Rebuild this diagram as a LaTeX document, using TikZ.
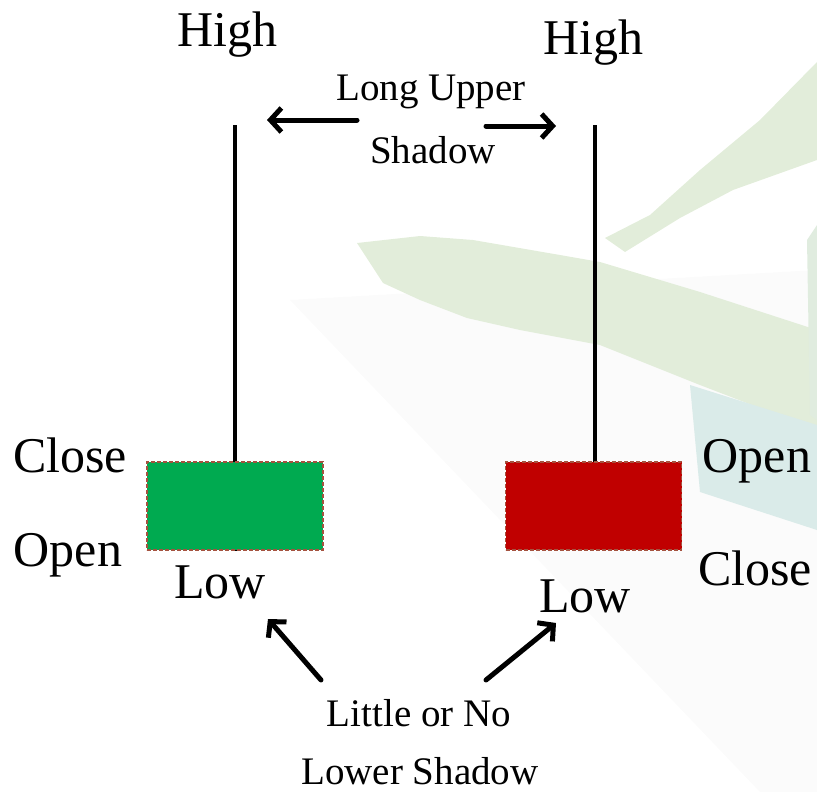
\documentclass[tikz,border=0pt]{standalone}
\usepackage{fontspec}
\setmainfont{Liberation Serif}
\usetikzlibrary{arrows.meta}
\definecolor{bullgreen}{RGB}{0,170,80}
\definecolor{bearred}{RGB}{192,0,0}
\definecolor{boxedge}{RGB}{165,82,63}
\definecolor{wmgreen}{RGB}{226,237,218}
\definecolor{wmteal}{RGB}{218,235,233}
\definecolor{wmgray}{RGB}{251,251,251}
\tikzset{
  big/.style={inner sep=0pt, anchor=base, font=\fontsize{50}{50}\selectfont},
  small/.style={inner sep=0pt, anchor=base, font=\fontsize{39}{39}\selectfont},
  wick/.style={line width=4pt, black},
  body/.style={draw=boxedge, line width=1.5pt, dash pattern=on 4pt off 2pt, minimum width=176pt, minimum height=88pt, inner sep=0pt},
  pointer/.style={line width=5pt, line cap=round, -{Straight Barb[length=11pt,width=24pt,line width=5pt]}}
}
\begin{document}
\begin{tikzpicture}[x=1pt,y=-1pt]
\useasboundingbox (0,0) rectangle (817,792);
% watermark
\fill[wmgray] (290,300) -- (817,270) -- (817,792) -- (760,792) -- cycle;
\fill[wmgreen] (357,243) -- (420,236) -- (473,240) -- (560,255) -- (600,262) -- (700,292) -- (817,330) -- (817,430) -- (700,385) -- (600,345) -- (520,330) -- (467,318) -- (420,300) -- (383,283) -- cycle;
\fill[wmteal] (690,385) -- (817,425) -- (817,530) -- (700,492) -- cycle;
\fill[wmgreen] (605,238) -- (650,215) -- (700,170) -- (760,120) -- (817,62) -- (817,160) -- (733,190) -- (680,218) -- (625,252) -- cycle;
\fill[wmgreen!70!wmteal] (807,240) -- (817,225) -- (817,420) -- (810,415) -- cycle;
% candles
\coordinate (ghigh) at (235,125);
\coordinate (glow) at (235,551);
\coordinate (rhigh) at (595,125);
\coordinate (rtop) at (595,462);
\draw[wick] (ghigh) -- (glow);
\draw[wick] (rhigh) -- (rtop);
\node[body, fill=bullgreen] (gbox) at (235,506) {};
\node[body, fill=bearred] (rbox) at (593.5,506) {};
% labels
\node[big] (h1) at (227,47) {High};
\node[big] (h2) at (593,55) {High};
\node[big] (c1) at (70,472) {Close};
\node[big] (o1) at (68,566) {Open};
\node[big] (l1) at (220,598) {Low};
\node[big] (o2) at (757,472) {Open};
\node[big] (c2) at (755,585) {Close};
\node[big] (l2) at (585,612) {Low};
\node[small] (lu) at (431,100) {Long Upper};
\node[small] (sh) at (433,163) {Shadow};
\node[small] (ln) at (419,726) {Little or No};
\node[small] (ls) at (420,784) {Lower Shadow};
% arrows
\coordinate (a1s) at (357,120);
\coordinate (a1e) at (267,120);
\coordinate (a2s) at (486,126);
\coordinate (a2e) at (556,126);
\coordinate (a3s) at (321,680);
\coordinate (a3e) at (268,619);
\coordinate (a4s) at (486,680);
\coordinate (a4e) at (556,623);
\draw[pointer] (a1s) -- (a1e);
\draw[pointer] (a2s) -- (a2e);
\draw[pointer] (a3s) -- (a3e);
\draw[pointer] (a4s) -- (a4e);
\end{tikzpicture}
\end{document}
